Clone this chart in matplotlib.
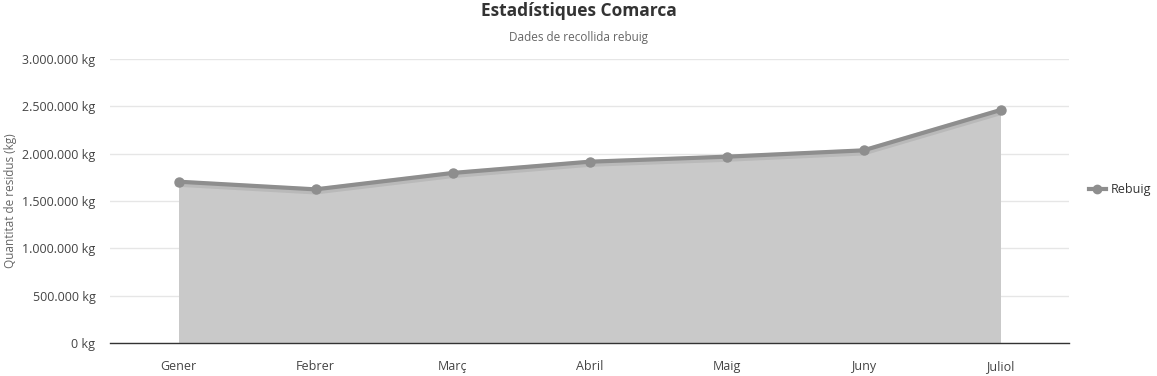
import matplotlib
matplotlib.use("Agg")
import matplotlib.pyplot as plt
import matplotlib.patheffects as pe
from matplotlib.ticker import FuncFormatter, MultipleLocator

plt.rcParams['font.family'] = ['Open Sans', 'DejaVu Sans']

# Data
months = ['Gener', 'Febrer', 'Març', 'Abril', 'Maig', 'Juny', 'Juliol']
rebuig = [1704000, 1623000, 1796000, 1915000, 1968000, 2035000, 2461000]

fig = plt.figure(figsize=(11.57, 3.76), dpi=100)
ax = fig.add_axes([110 / 1157, 1 - 343 / 376, (1069 - 110) / 1157, (343 - 59) / 376])

x = list(range(len(months)))
ax.fill_between(x, rebuig, 0, color='#c9c9c9', linewidth=0, zorder=2)
# line with a soft drop shadow, then the markers on top
ax.plot(x, rebuig, color='#8e8e8e', linewidth=3, zorder=3,
        path_effects=[pe.SimpleLineShadow(offset=(0, -1.2), shadow_color='#000000', alpha=0.08, linewidth=5),
                      pe.Normal()])
ax.plot(x, rebuig, color='#8e8e8e', linewidth=0, marker='o', markersize=6.5, zorder=4)
ax.plot([], [], color='#8e8e8e', linewidth=3, marker='o', markersize=6, label='Rebuig')

ax.set_xlim(-0.5, len(months) - 0.5)
ax.set_ylim(0, 3000000)
ax.yaxis.set_major_locator(MultipleLocator(500000))
ax.yaxis.set_major_formatter(FuncFormatter(lambda v, p: f"{int(v):,} kg".replace(',', '.')))
ax.set_xticks(x)
ax.set_xticklabels(months)

ax.grid(axis='y', color='#e6e6e6', linewidth=1, zorder=0)
ax.set_axisbelow(True)
for s in ['top', 'right', 'left']:
    ax.spines[s].set_visible(False)
ax.spines['bottom'].set_color('#333333')
ax.spines['bottom'].set_linewidth(1)
ax.tick_params(axis='both', length=0, labelsize=9, colors='#444444')
ax.tick_params(axis='x', pad=12)
ax.tick_params(axis='y', pad=10.5)

ax.set_ylabel('Quantitat de residus (kg)', fontsize=8.5, color='#666666')
ax.yaxis.set_label_coords(-(110 - 17) / 959, 0.5)

fig.text(0.5, 1 - 11 / 376, 'Estadístiques Comarca', ha='center', va='center',
         fontsize=12.5, fontweight='bold', color='#333333')
fig.text(0.5, 1 - 37 / 376, 'Dades de recollida rebuig', ha='center', va='center',
         fontsize=8.5, color='#666666')

fig.legend(loc='center left', bbox_to_anchor=(1078 / 1157, 1 - 190 / 376), frameon=False,
           fontsize=9, handlelength=1.3, handletextpad=0.4, labelcolor='#333333')

fig.savefig('out.png', dpi=100, facecolor='white')
